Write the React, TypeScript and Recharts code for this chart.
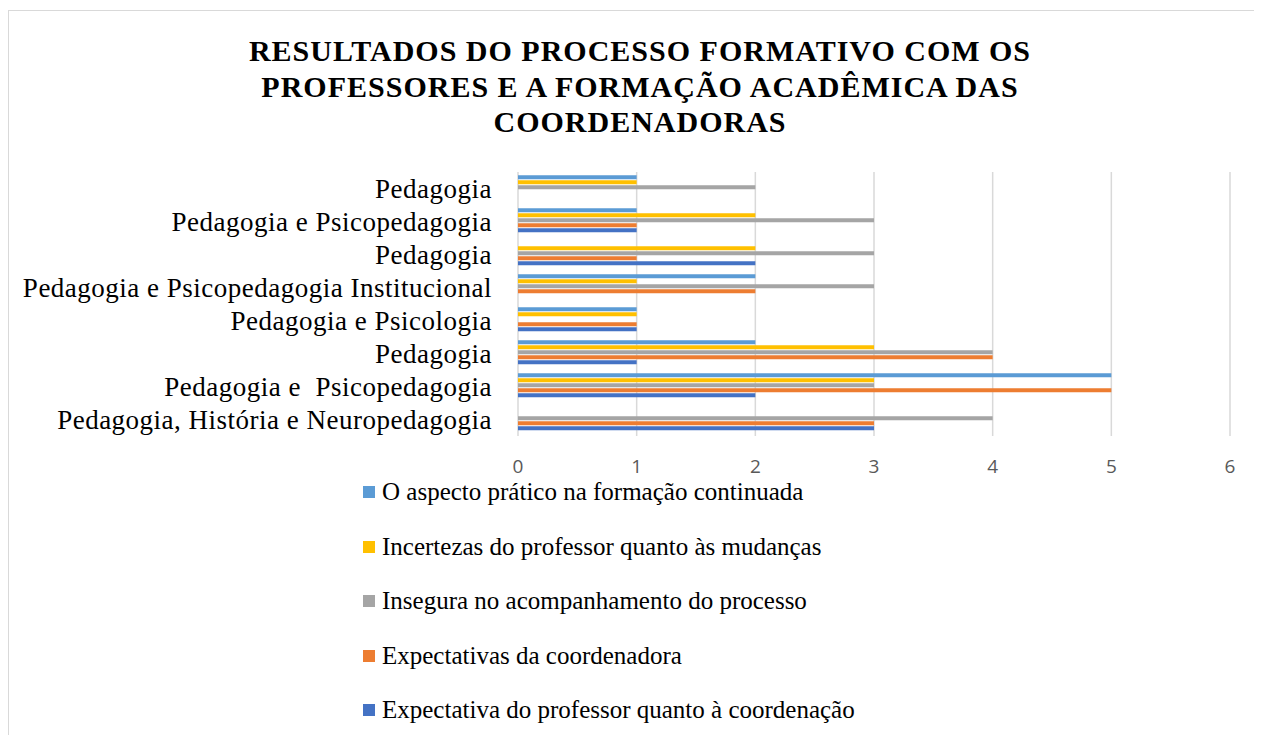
import React from "react";
import { BarChart, Bar, XAxis, YAxis, CartesianGrid, Legend } from "recharts";

const categories = [
  "Pedagogia",
  "Pedagogia e Psicopedagogia",
  "Pedagogia",
  "Pedagogia e Psicopedagogia Institucional",
  "Pedagogia e Psicologia",
  "Pedagogia",
  "Pedagogia e  Psicopedagogia",
  "Pedagogia, História e Neuropedagogia",
];

const aspectoPratico = [1, 1, 0, 2, 1, 2, 5, 0];
const incertezas = [1, 2, 2, 1, 1, 3, 3, 0];
const insegura = [2, 3, 3, 3, 0, 4, 3, 4];
const expectativasCoord = [0, 1, 1, 2, 1, 4, 5, 3];
const expectativaProf = [0, 1, 2, 0, 1, 1, 2, 3];

const xTicks = [0, 1, 2, 3, 4, 5, 6];

const seriesKeys = ["a", "b", "c", "d", "e"];
const seriesNames: Record<string, string> = {
  a: "O aspecto prático na formação continuada",
  b: "Incertezas do professor quanto às mudanças",
  c: "Insegura no acompanhamento do processo",
  d: "Expectativas da coordenadora",
  e: "Expectativa do professor quanto à coordenação",
};
const seriesColors: Record<string, string> = {
  a: "#5B9BD5",
  b: "#FFC000",
  c: "#A5A5A5",
  d: "#ED7D31",
  e: "#4472C4",
};

const data = categories.map((name, i) => ({
  name,
  a: aspectoPratico[i],
  b: incertezas[i],
  c: insegura[i],
  d: expectativasCoord[i],
  e: expectativaProf[i],
}));

const SERIF = "'Liberation Serif', 'Times New Roman', serif";

const CategoryTick = (props: any) => {
  const { x, y, payload } = props;
  return (
    <text
      x={x}
      y={y}
      textAnchor="end"
      dominantBaseline="central"
      fill="#000"
      style={{ whiteSpace: "pre", fontFamily: SERIF, fontSize: 27, letterSpacing: 0.5 }}
    >
      {payload.value}
    </text>
  );
};

const LegendContent = (props: any) => {
  const payload = [...(props.payload || [])].sort(
    (p: any, q: any) => seriesKeys.indexOf(p.dataKey) - seriesKeys.indexOf(q.dataKey)
  );
  return (
    <div>
      {payload.map((p: any) => (
        <div
          key={p.dataKey}
          style={{
            height: 54.5,
            display: "flex",
            alignItems: "center",
            fontFamily: SERIF,
            fontSize: 25,
            color: "#000",
            whiteSpace: "nowrap",
          }}
        >
          <span
            style={{
              display: "inline-block",
              width: 12,
              height: 12,
              background: p.color,
              marginRight: 7,
            }}
          />
          {p.value}
        </div>
      ))}
    </div>
  );
};

export default function App() {
  return (
    <div
      style={{
        position: "relative",
        width: 1245,
        height: 724,
        marginTop: 2,
        borderLeft: "1px solid #d9d9d9",
        borderTop: "1px solid #d9d9d9",
        background: "#fff",
      }}
    >
      <div
        style={{
          position: "absolute",
          left: 0,
          top: 22,
          width: 1262,
          textAlign: "center",
          fontFamily: SERIF,
          fontWeight: "bold",
          fontSize: 30,
          letterSpacing: 1,
          lineHeight: "35.5px",
          color: "#000",
        }}
      >
        RESULTADOS DO PROCESSO FORMATIVO COM OS
        <br />
        PROFESSORES E A FORMAÇÃO ACADÊMICA DAS
        <br />
        COORDENADORAS
      </div>
      <div style={{ position: "absolute", left: 0, top: 0 }}>
        <BarChart
          width={1245}
          height={724}
          data={data}
          layout="vertical"
          margin={{ top: 161, right: 24, left: 0, bottom: 259 }}
          barCategoryGap="10%"
          barGap={1}
        >
          <CartesianGrid horizontal={false} vertical stroke="#d9d9d9" strokeWidth={1.5} />
          <XAxis
            type="number"
            domain={[0, 6]}
            ticks={xTicks}
            axisLine={false}
            tickLine={false}
            tickSize={0}
            tickMargin={24}
            tick={{ fill: "#595959", fontSize: 19, fontFamily: "'Open Sans', sans-serif" }}
            height={40}
          />
          <YAxis
            type="category"
            dataKey="name"
            width={509}
            axisLine={false}
            tickLine={false}
            tickSize={0}
            tickMargin={26}
            tick={<CategoryTick />}
            interval={0}
          />
          <Legend
            layout="vertical"
            align="center"
            verticalAlign="middle"
            content={<LegendContent />}
            wrapperStyle={{ top: 454, left: 354, width: 600, height: 280 }}
          />
          {seriesKeys.map((k) => (
            <Bar
              key={k}
              dataKey={k}
              name={seriesNames[k]}
              fill={seriesColors[k]}
              isAnimationActive={false}
            />
          ))}
        </BarChart>
      </div>
    </div>
  );
}
